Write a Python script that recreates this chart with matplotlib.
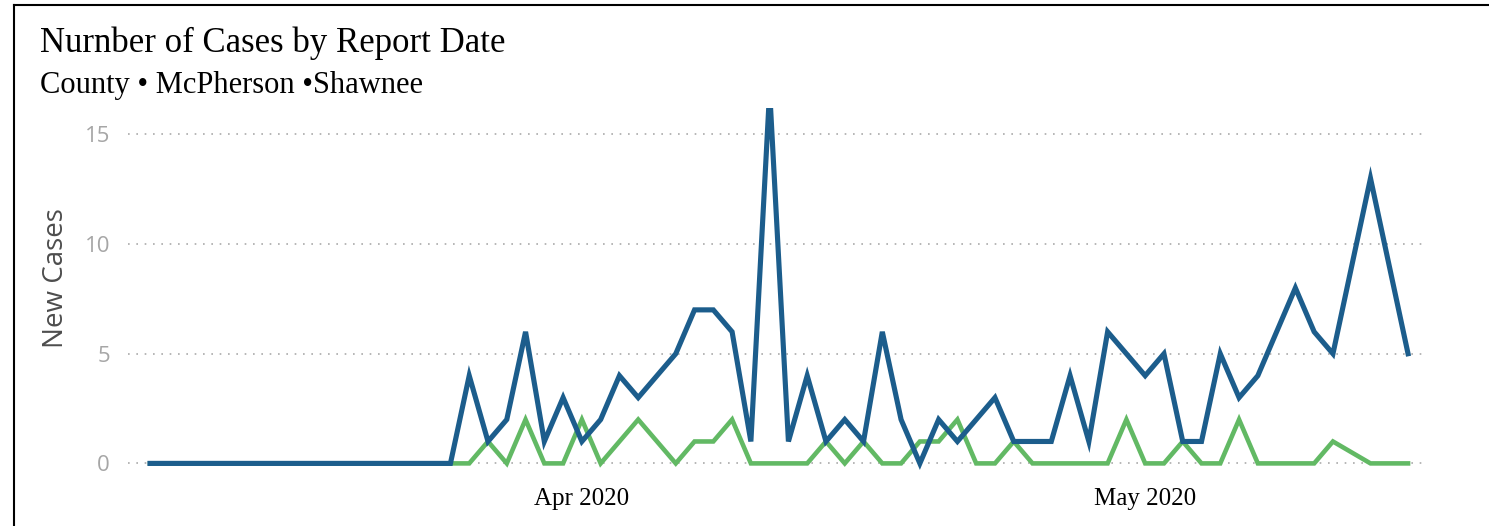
import matplotlib
matplotlib.use("Agg")
import matplotlib.pyplot as plt
from matplotlib.lines import Line2D
import pandas as pd

# daily report dates, Mar 9 - May 15 2020
dates = pd.date_range("2020-03-09", "2020-05-15", freq="D")

shawnee = [0] * 17 + [
    4, 1, 2, 6, 1, 3,                      # Mar 26 - Mar 31
    1, 2, 4, 3, 4, 5, 7, 7, 6, 1,          # Apr 1 - Apr 10
    17, 1, 4, 1, 2, 1, 6, 2, 0, 2,         # Apr 11 - Apr 20 (peak runs off the top)
    1, 2, 3, 1, 1, 1, 4, 1, 6, 5,          # Apr 21 - Apr 30
    4, 5, 1, 1, 5, 3, 4, 6, 8, 6,          # May 1 - May 10
    5, 9, 13, 9, 5,                        # May 11 - May 15
]
mcpherson = [0] * 18 + [
    1, 0, 2, 0, 0,                         # Mar 27 - Mar 31
    2, 0, 1, 2, 1, 0, 1, 1, 2, 0,          # Apr 1 - Apr 10
    0, 0, 0, 1, 0, 1, 0, 0, 1, 1,          # Apr 11 - Apr 20
    2, 0, 0, 1, 0, 0, 0, 0, 0, 2,          # Apr 21 - Apr 30
    0, 0, 1, 0, 0, 2, 0, 0, 0, 0,          # May 1 - May 10
    1, 0.5, 0, 0, 0,                       # May 11 - May 15
]
y_ticks = [0, 5, 10, 15]
x_ticks = ["2020-04-01", "2020-05-01"]
x_labels = ["Apr 2020", "May 2020"]

BLUE = "#1c5d8c"
GREEN = "#62b964"

fig = plt.figure(figsize=(14.89, 5.26), dpi=100)
ax = fig.add_axes([0.086, 0.1065, 0.873, 0.688])

ax.plot(dates, mcpherson, color=GREEN, lw=3.3, solid_joinstyle="miter", zorder=3)
ax.plot(dates, shawnee, color=BLUE, lw=3.7, solid_joinstyle="miter", zorder=4)

ax.set_xlim(dates[0] - pd.Timedelta(days=1.17), dates[-1] + pd.Timedelta(days=1.06))
ax.set_ylim(-0.3, 16.2)

ax.set_yticks(y_ticks)
ax.set_yticklabels([str(v) for v in y_ticks], family="Open Sans", fontsize=16, color="#a6a6a6")
ax.set_xticks(pd.to_datetime(x_ticks))
ax.set_xticklabels(x_labels, family="Liberation Serif", fontsize=18, color="black")
ax.tick_params(axis="both", length=0)
ax.tick_params(axis="y", pad=13)
ax.tick_params(axis="x", pad=13)

ax.grid(axis="y", color="#aaaaaa", lw=1.2, linestyle=(0, (1, 4)))
ax.grid(axis="x", visible=False)
for s in ax.spines.values():
    s.set_visible(False)

ax.set_ylabel("New Cases", family="Open Sans", fontsize=20, color="#4d4d4d")
ax.yaxis.set_label_coords(-0.045, 0.53)

fig.text(40 / 1489, 1 - 52 / 526, "Nurnber of Cases by Report Date",
         family="Liberation Serif", fontsize=25, va="baseline")
fig.text(40 / 1489, 1 - 93 / 526, "County \u2022 McPherson \u2022Shawnee",
         family="Liberation Serif", fontsize=22, va="baseline")

# frame around the header/plot
fig.add_artist(Line2D([14 / 1489, 14 / 1489], [0, 1 - 5 / 526], color="black", lw=1.5,
                      transform=fig.transFigure))
fig.add_artist(Line2D([14 / 1489, 1], [1 - 5 / 526, 1 - 5 / 526], color="black", lw=1.5,
                      transform=fig.transFigure))

fig.savefig("out.png", dpi=100)
